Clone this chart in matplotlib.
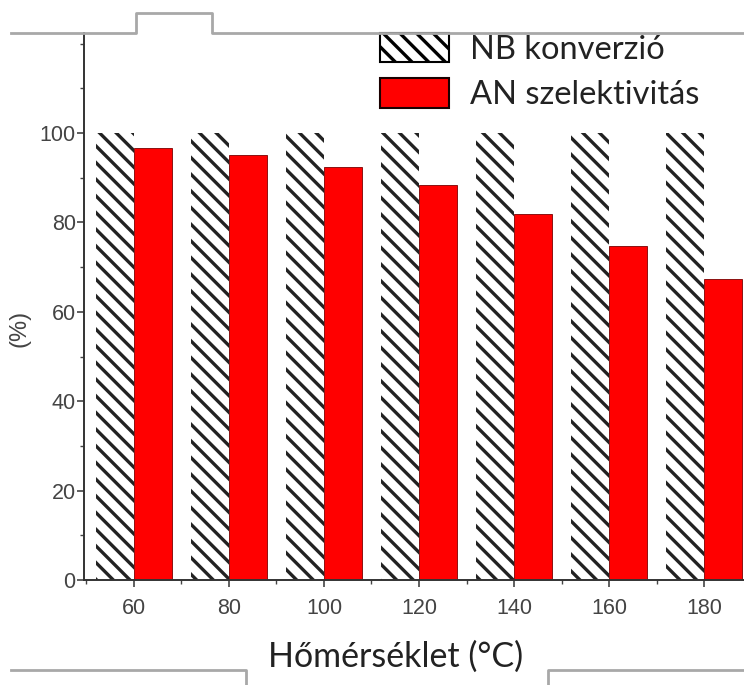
import matplotlib
matplotlib.use('Agg')
import matplotlib.pyplot as plt
from matplotlib.lines import Line2D
from matplotlib.patches import Patch
from matplotlib.ticker import MultipleLocator

# adatok
temps = [60, 80, 100, 120, 140, 160, 180]
nb_konverzio = [100, 100, 100, 100, 100, 100, 100]
an_szelektivitas = [96.6, 95.1, 92.4, 88.3, 81.8, 74.7, 67.4]
yticks = [0, 20, 40, 60, 80, 100]

W, H = 744, 685
plt.rcParams['font.family'] = ['Liberation Sans', 'DejaVu Sans']
plt.rcParams['hatch.linewidth'] = 2.4

fig = plt.figure(figsize=(W / 100, H / 100), dpi=100)
ax = fig.add_axes([84 / W, 1 - 580 / H, 1 - 84 / W, (580 - 33) / H])

bw = 8
ax.bar([t - bw / 2 for t in temps], nb_konverzio, width=bw, color='white',
       edgecolor='#222222', linewidth=0, hatch='\\\\')
ax.bar([t + bw / 2 for t in temps], an_szelektivitas, width=bw, color='#ff0000',
       edgecolor='#7a0000', linewidth=0.6)

ax.set_xlim(49.5, 188.4)
ax.set_ylim(0, 122.4)
ax.set_xticks(temps)
ax.xaxis.set_minor_locator(MultipleLocator(20, offset=10))
ax.set_yticks(yticks)
ax.yaxis.set_minor_locator(MultipleLocator(10))

for s in ['top', 'right']:
    ax.spines[s].set_visible(False)
for s in ['left', 'bottom']:
    ax.spines[s].set_color('#333333')
    ax.spines[s].set_linewidth(1.4)

ax.tick_params(axis='both', which='major', length=5, width=1.2, color='#444444',
               labelcolor='#444444', labelsize=15.5)
ax.tick_params(axis='both', which='minor', length=3, width=1.0, color='#444444')
ax.tick_params(axis='x', which='major', pad=8)
ax.tick_params(axis='y', which='major', pad=1)

ax.set_ylabel('(%)', fontsize=17, color='#444444', va='center')
ax.yaxis.set_label_coords((19 - 84) / 660, (580 - 328) / 547)
ax.set_xlabel('Hőmérséklet (°C)', fontsize=24.5, color='#222222',
              family=['Lato', 'DejaVu Sans'], va='center')
ax.xaxis.set_label_coords((396 - 84) / 660, -(657 - 580) / 547)

handles = [Patch(facecolor='white', edgecolor='black', linewidth=1.5, hatch='\\\\'),
           Patch(facecolor='#ff0000', edgecolor='#1a0000', linewidth=1.5)]
labels = ['NB konverzió', 'AN szelektivitás']
leg = ax.legend(handles, labels, loc='upper left', bbox_to_anchor=(380 / W, 1 - 33 / H),
                bbox_transform=fig.transFigure, frameon=False,
                prop={'family': ['Lato', 'DejaVu Sans'], 'size': 23.5},
                handlelength=2.1, handleheight=1.0, handletextpad=0.65,
                labelspacing=0.42, borderpad=0, borderaxespad=0)
for t in leg.get_texts():
    t.set_color('#222222')


def px(x, y):
    return x / W, 1 - y / H


gray = dict(color='#a8a8a8', linewidth=2, transform=fig.transFigure)
# szövegdoboz keret maradványok
top_pts = [(11, 33), (136, 33), (136, 13), (212, 13), (212, 33), (744, 33)]
fig.add_artist(Line2D([px(*p)[0] for p in top_pts], [px(*p)[1] for p in top_pts], **gray))
bl = [(11, 670), (246, 670), (246, 685)]
fig.add_artist(Line2D([px(*p)[0] for p in bl], [px(*p)[1] for p in bl], **gray))
br = [(548, 685), (548, 670), (744, 670)]
fig.add_artist(Line2D([px(*p)[0] for p in br], [px(*p)[1] for p in br], **gray))

fig.savefig('out.png', dpi=100)
